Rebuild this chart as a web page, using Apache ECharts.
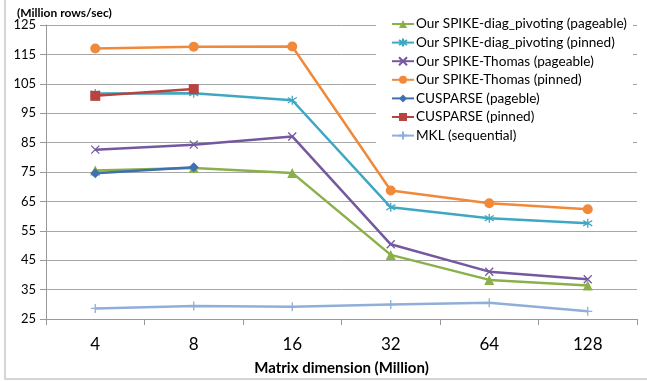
<!DOCTYPE html>
<html><head><meta charset="utf-8">
<script src="https://cdn.jsdelivr.net/npm/echarts@6/dist/echarts.min.js"></script>
<style>html,body{margin:0;padding:0;background:#fff}#c{width:647px;height:381px}</style>
</head><body><div id="c"></div>
<script>
const categories = ['4','8','16','32','64','128'];
const yTicks = [25,35,45,55,65,75,85,95,105,115,125];
const diagPageable = [75.5, 76.4, 74.7, 46.8, 38.3, 36.4];
const diagPinned = [101.7, 101.8, 99.4, 63.0, 59.3, 57.6];
const thomasPageable = [82.6, 84.3, 87.1, 50.4, 41.1, 38.5];
const thomasPinned = [117.0, 117.6, 117.7, 68.7, 64.4, 62.3];
const cusparsePageable = [74.6, 76.6, null, null, null, null];
const cusparsePinned = [100.9, 103.2, null, null, null, null];
const mklSequential = [28.6, 29.4, 29.2, 29.9, 30.5, 27.6];
const seriesNames = ['Our SPIKE-diag_pivoting (pageable)','Our SPIKE-diag_pivoting (pinned)','Our SPIKE-Thomas (pageable)','Our SPIKE-Thomas (pinned)','CUSPARSE (pageble)','CUSPARSE (pinned)','MKL (sequential)'];

const FONT = 'Lato, "Open Sans", sans-serif';
const asterisk = 'path://M5,0L5,10M0,2L10,8M10,2L0,8';
const xmark = 'path://M0,0L10,10M10,0L0,10';
const plus = 'path://M5,0L5,10M0,5L10,5';

function mk(name, data, color, symbol, size, stroke) {
  return {
    name, type: 'line', data, symbol, symbolSize: size,
    connectNulls: false,
    lineStyle: {color, width: 2.5},
    itemStyle: stroke ? {color: color, borderColor: color, borderWidth: 1.3} : {color: color, borderColor: color, borderWidth: 0},
    emphasis: {disabled: true},
    animation: false
  };
}
const chart = echarts.init(document.getElementById('c'), null, {renderer: 'canvas'});
chart.setOption({
  animation: false,
  backgroundColor: '#fff',
  textStyle: {fontFamily: FONT},
  graphic: [
    {type: 'rect', shape: {x: 5, y: -5, width: 700, height: 384}, style: {fill: 'none', stroke: '#c8c8c8', lineWidth: 1.5}, z: -1},
    {type: 'text', left: 17, top: 7, style: {text: '(Million rows/sec)', font: 'bold 12px ' + FONT, fill: '#000'}}
  ],
  grid: {left: 46, right: 10, top: 25, bottom: 57},
  legend: {
    orient: 'vertical', left: 376, top: 12,
    backgroundColor: '#fff', padding: [5, 6, 6, 15],
    itemWidth: 22, itemHeight: 10, itemGap: 4.6,
    textStyle: {fontSize: 13.6, fontFamily: FONT, color: '#000', padding: [0,0,0,-3]},
    data: seriesNames
  },
  xAxis: {
    type: 'category', data: categories, boundaryGap: true,
    name: 'Matrix dimension (Million)', nameLocation: 'middle', nameGap: 42,
    nameTextStyle: {fontWeight: 'bold', fontSize: 15, color: '#000', fontFamily: FONT},
    axisLine: {lineStyle: {color: '#999', width: 1}},
    axisTick: {show: true, length: 6, lineStyle: {color: '#999'}},
    axisLabel: {fontSize: 17, color: '#000', margin: 17, fontFamily: FONT},
    splitLine: {show: false}
  },
  yAxis: {
    type: 'value', min: 25, max: 125, interval: 10,
    axisLine: {show: true, lineStyle: {color: '#999'}},
    axisTick: {show: true, length: 6, lineStyle: {color: '#999'}},
    axisLabel: {fontSize: 13, color: '#000', margin: 10, fontFamily: FONT},
    splitLine: {lineStyle: {color: '#a6a6a6', width: 1}}
  },
  series: [
    mk(seriesNames[0], diagPageable, '#8BB04A', 'triangle', 10, false),
    mk(seriesNames[1], diagPinned, '#3FA7C2', asterisk, 9, true),
    mk(seriesNames[2], thomasPageable, '#7458A0', xmark, 8, true),
    mk(seriesNames[3], thomasPinned, '#F08A3A', 'circle', 10, false),
    mk(seriesNames[4], cusparsePageable, '#3F70B0', 'diamond', 10, false),
    mk(seriesNames[5], cusparsePinned, '#B8433F', 'rect', 10, false),
    mk(seriesNames[6], mklSequential, '#90AEDA', plus, 9, true)
  ]
});
</script></body></html>
